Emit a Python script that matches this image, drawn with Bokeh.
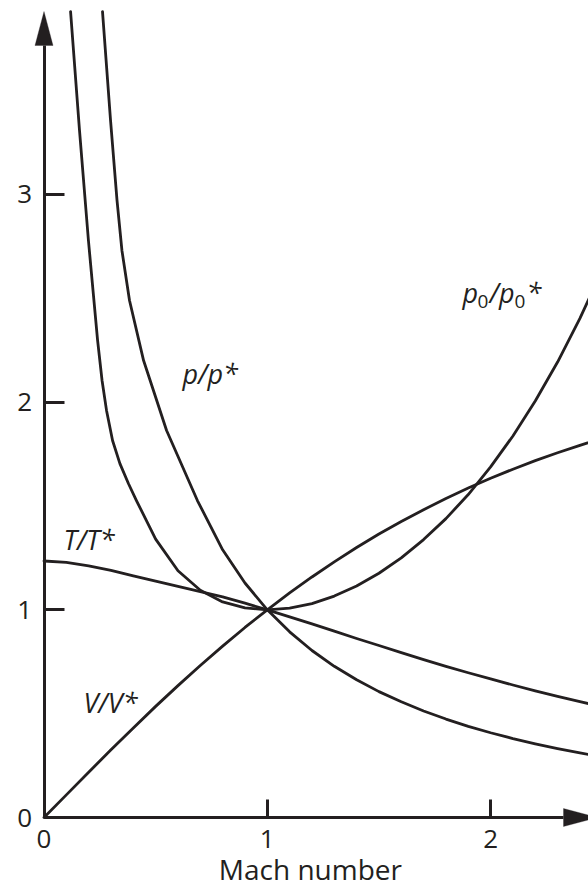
from bokeh.plotting import figure
from bokeh.models import Range1d, FixedTicker, Label, PolyAnnotation
from bokeh.embed import file_html
from bokeh.resources import INLINE

# Fanno-flow property ratios (gamma = 1.4) against Mach number
mach = [0.0, 0.1, 0.2, 0.3, 0.4, 0.5, 0.6, 0.7, 0.8, 0.9, 1.0, 1.1, 1.2,
        1.3, 1.4, 1.5, 1.6, 1.7, 1.8, 1.9, 2.0, 2.1, 2.2, 2.3, 2.4, 2.5]
t_ratio = [1.235, 1.228, 1.212, 1.190, 1.163, 1.138, 1.113, 1.088, 1.062,
           1.032, 1.000, 0.966, 0.932, 0.897, 0.862, 0.828, 0.794, 0.760,
           0.728, 0.697, 0.667, 0.638, 0.610, 0.583, 0.558, 0.533]
v_ratio = [0.000, 0.109, 0.218, 0.326, 0.431, 0.535, 0.635, 0.732, 0.825,
           0.915, 1.000, 1.081, 1.158, 1.231, 1.300, 1.365, 1.425, 1.482,
           1.536, 1.586, 1.633, 1.677, 1.718, 1.756, 1.792, 1.826]

mach_p = [0.262, 0.298, 0.327, 0.349, 0.383, 0.446, 0.549, 0.687, 0.80,
          0.90, 1.0, 1.1, 1.2, 1.3, 1.4, 1.5, 1.6, 1.7, 1.8, 1.9, 2.0,
          2.1, 2.2, 2.3, 2.4, 2.5]
p_ratio = [3.880, 3.356, 2.971, 2.730, 2.489, 2.200, 1.863, 1.526, 1.289,
           1.129, 1.000, 0.894, 0.804, 0.728, 0.663, 0.606, 0.557, 0.513,
           0.474, 0.439, 0.408, 0.380, 0.355, 0.332, 0.311, 0.292]

mach_p0 = [0.119, 0.159, 0.199, 0.240, 0.260, 0.280, 0.307, 0.340, 0.378,
           0.414, 0.50, 0.60, 0.70, 0.80, 0.90, 1.0, 1.1, 1.2, 1.3, 1.4,
           1.5, 1.6, 1.7, 1.8, 1.9, 2.0, 2.1, 2.2, 2.3, 2.4, 2.5]
p0_ratio = [3.880, 3.308, 2.778, 2.297, 2.104, 1.960, 1.815, 1.704, 1.608,
            1.526, 1.340, 1.188, 1.094, 1.038, 1.009, 1.000, 1.008, 1.030,
            1.066, 1.115, 1.176, 1.250, 1.338, 1.439, 1.555, 1.688, 1.837,
            2.005, 2.193, 2.403, 2.637]

x_ticks = [0, 1, 2]
y_ticks = [0, 1, 2, 3]

INK = "#231f20"
FONT = "Open Sans"
W, H = 588, 888
# pixel position of the origin and pixels per unit on each axis
ORIGIN_X, ORIGIN_Y = 43.5, 817
PX_X, PX_Y = 223.3, 207.7
Y_TIP = (ORIGIN_Y - 11) / PX_Y          # top of the vertical arrow
X_TIP = (597 - ORIGIN_X) / PX_X         # tip of the horizontal arrow
HEAD_LEN, HEAD_HALF = 34, 9
LIFT = 11                               # baseline correction for labels, px

p = figure(width=W, height=H,
           x_range=Range1d(-ORIGIN_X / PX_X, (W - ORIGIN_X) / PX_X),
           y_range=Range1d(-(H - ORIGIN_Y) / PX_Y, ORIGIN_Y / PX_Y),
           output_backend="svg", toolbar_location=None,
           min_border_left=0, min_border_right=0,
           min_border_top=0, min_border_bottom=0)
p.grid.visible = False
p.outline_line_color = None
p.background_fill_color = "white"
p.border_fill_color = "white"

for ax in (p.xaxis[0], p.yaxis[0]):
    ax.fixed_location = 0
    ax.axis_line_color = INK
    ax.axis_line_width = 3
    ax.major_tick_line_color = INK
    ax.major_tick_line_width = 3
    ax.major_tick_out = 0
    ax.minor_tick_line_color = None
    ax.major_label_text_font = FONT
    ax.major_label_text_font_size = "26px"
    ax.major_label_text_color = INK
    ax.major_label_standoff = 12

p.xaxis.ticker = FixedTicker(ticks=x_ticks)
p.yaxis.ticker = FixedTicker(ticks=y_ticks)
p.xaxis.major_tick_in = 18
p.yaxis.major_tick_in = 20
p.xaxis.bounds = (0, X_TIP - HEAD_LEN / PX_X)
p.yaxis.bounds = (0, Y_TIP - HEAD_LEN / PX_Y)

# Arrowheads at the ends of both axes
hw_x, hl_x = HEAD_HALF / PX_X, HEAD_LEN / PX_X
hw_y, hl_y = HEAD_HALF / PX_Y, HEAD_LEN / PX_Y
p.add_layout(PolyAnnotation(xs=[-hw_x, 0, hw_x], ys=[Y_TIP - hl_y, Y_TIP, Y_TIP - hl_y],
                            fill_color=INK, fill_alpha=1, line_color=INK, line_width=1))
p.add_layout(PolyAnnotation(xs=[X_TIP - hl_x, X_TIP, X_TIP - hl_x], ys=[-hw_y, 0, hw_y],
                            fill_color=INK, fill_alpha=1, line_color=INK, line_width=1))

curve_style = dict(line_color=INK, line_width=2.8, line_join="round", line_cap="round")
p.line(mach, t_ratio, **curve_style)
p.line(mach, v_ratio, **curve_style)
p.line(mach_p, p_ratio, **curve_style)
p.line(mach_p0, p0_ratio, **curve_style)


def tag(x, y, text, size="27px", style="italic", dx=0, dy=0, align="left"):
    p.add_layout(Label(x=x, y=y, text=text, x_offset=dx, y_offset=dy + LIFT,
                       text_font=FONT, text_font_size=size, text_font_style=style,
                       text_color=INK, text_align=align, text_baseline="alphabetic"))


tag(0.087, 1.286, "T/T*")
tag(0.177, 0.500, "V/V*")
tag(0.620, 2.085, "p/p*")
# p0/p0* with upright subscript zeros
tag(1.874, 2.475, "p")
tag(1.874, 2.475, "0", size="19px", style="normal", dx=15, dy=-9)
tag(1.874, 2.475, "/p", dx=27)
tag(1.874, 2.475, "0", size="19px", style="normal", dx=52, dy=-9)
tag(1.874, 2.475, "*", dx=64)

tag(1.193, -0.303, "Mach number", size="28px", style="normal", align="center")

open("out.html", "w").write(file_html(p, INLINE))
